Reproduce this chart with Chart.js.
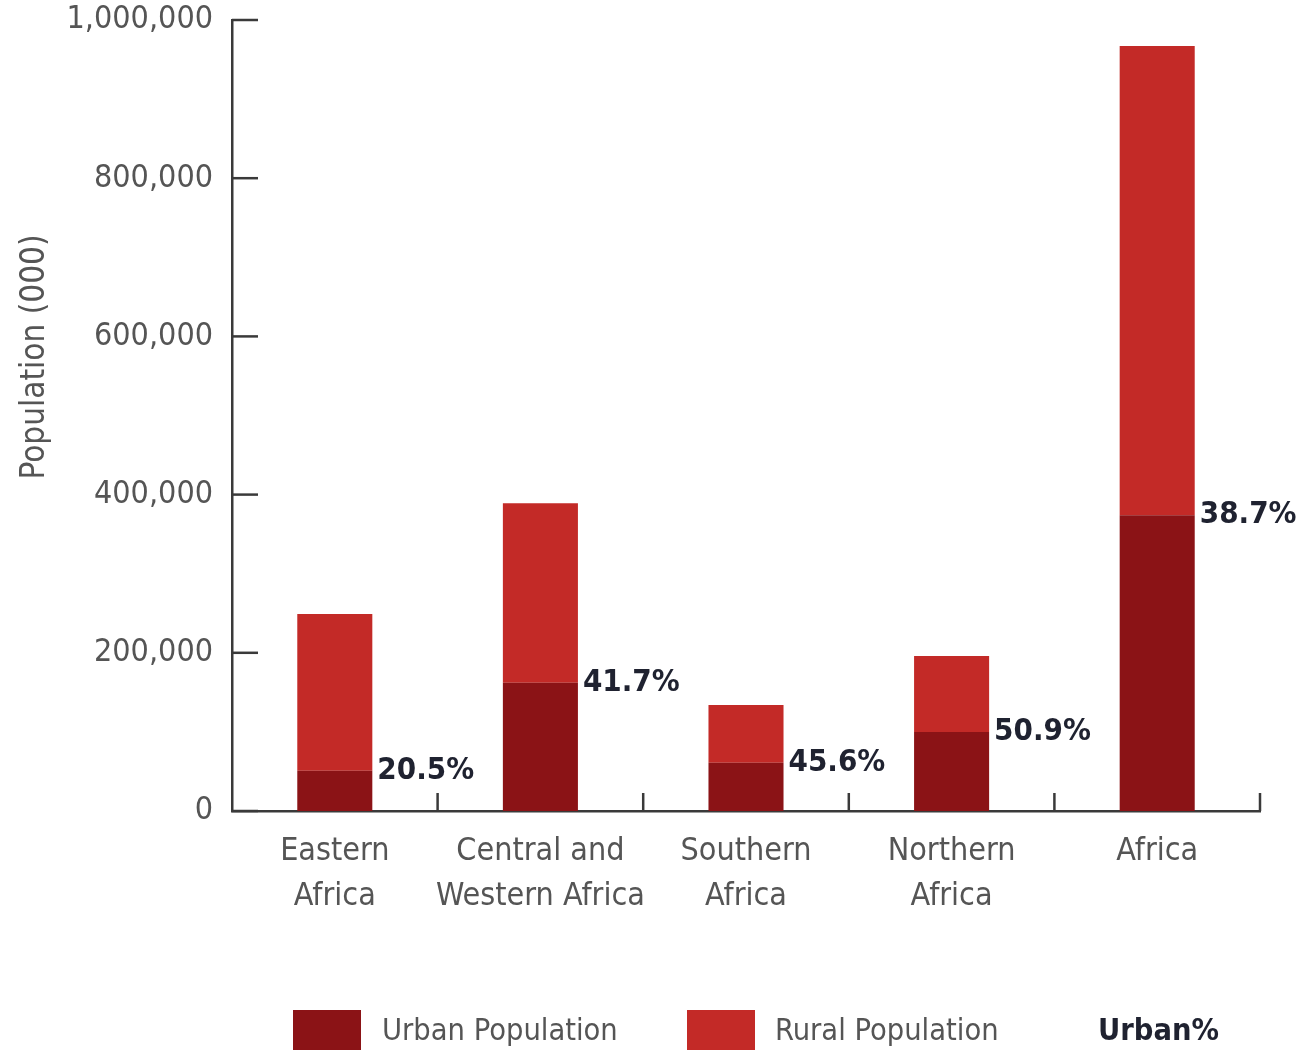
<!DOCTYPE html>
<html lang="en">
<head>
  <meta charset="UTF-8" />
  <title>Urban and rural population in Africa</title>
  <style>
    body {
      margin: 0;
      background: #fff;
      font-family: "Liberation Sans Narrow", "DejaVu Sans Condensed", sans-serif;
    }
    #wrap {
      position: relative;
      width: 1306px;
      height: 1053px;
    }
    #legend {
      position: absolute;
      left: 0;
      top: 1010px;
      height: 40px;
      width: 1306px;
      font-size: 30.5px;
      color: #555;
    }
    #legend .item {
      position: absolute;
      top: 0;
      height: 40px;
      line-height: 40px;
      white-space: nowrap;
    }
    #legend .box {
      position: absolute;
      top: 0;
      width: 68px;
      height: 40px;
    }
  </style>
  <script src="https://cdn.jsdelivr.net/npm/chart.js"></script>
</head>
<body>
  <div id="wrap">
    <canvas id="popChart"></canvas>
    <div id="legend">
      <div class="box" style="left:293px;background:#8b1316"></div>
      <div class="item" style="left:382px">Urban Population</div>
      <div class="box" style="left:687px;background:#c32a27"></div>
      <div class="item" style="left:775px">Rural Population</div>
      <div class="item" style="left:1098px;font-weight:bold;color:#1f2230">Urban%</div>
    </div>
  </div>

  <script>
    const categories = [
      ['Eastern', 'Africa'],
      ['Central and', 'Western Africa'],
      ['Southern', 'Africa'],
      ['Northern', 'Africa'],
      'Africa'
    ];
    const urbanPop = [51000, 162000, 61000, 100000, 374000];
    const ruralPop = [198000, 227000, 73000, 96000, 593000];
    const urbanPct = ['20.5%', '41.7%', '45.6%', '50.9%', '38.7%'];
    const yTicks = [0, 200000, 400000, 600000, 800000, 1000000];

    const FONT = '"Liberation Sans Narrow", "DejaVu Sans Condensed", sans-serif';
    const AXIS = '#3a3a3a';

    // inward tick marks, boundary ticks, axis title and the Urban% labels
    const extras = {
      id: 'extras',
      afterDatasetsDraw(chart) {
        const ctx = chart.ctx;
        const area = chart.chartArea;
        const x = chart.scales.x;
        const y = chart.scales.y;
        ctx.save();
        ctx.strokeStyle = AXIS;
        ctx.lineWidth = 2.5;

        yTicks.forEach(v => {
          const py = y.getPixelForValue(v);
          ctx.beginPath();
          ctx.moveTo(area.left, py);
          ctx.lineTo(area.left + 26, py);
          ctx.stroke();
        });

        for (let i = 0; i < categories.length; i++) {
          const px = i < categories.length - 1
            ? (x.getPixelForValue(i) + x.getPixelForValue(i + 1)) / 2
            : area.right;
          ctx.beginPath();
          ctx.moveTo(px, area.bottom);
          ctx.lineTo(px, area.bottom - 18);
          ctx.stroke();
        }

        // y axis title
        ctx.save();
        ctx.translate(35, 357);
        ctx.rotate(-Math.PI / 2);
        ctx.fillStyle = '#555';
        ctx.font = '33px ' + FONT;
        ctx.textAlign = 'center';
        ctx.textBaseline = 'middle';
        ctx.fillText('Population (000)', 0, 0);
        ctx.restore();

        // percentage labels next to the urban segment top
        const meta = chart.getDatasetMeta(0);
        ctx.fillStyle = '#1f2230';
        ctx.font = 'bold 31px ' + FONT;
        ctx.textAlign = 'left';
        ctx.textBaseline = 'middle';
        meta.data.forEach((bar, i) => {
          const right = bar.x + bar.width / 2;
          ctx.fillText(urbanPct[i], right + 5, y.getPixelForValue(urbanPop[i]));
        });
        ctx.restore();
      }
    };

    new Chart(document.getElementById('popChart'), {
      type: 'bar',
      data: {
        labels: categories,
        datasets: [
          {
            label: 'Urban Population',
            data: urbanPop,
            backgroundColor: '#8b1316',
            categoryPercentage: 1,
            barPercentage: 0.365
          },
          {
            label: 'Rural Population',
            data: ruralPop,
            backgroundColor: '#c32a27',
            categoryPercentage: 1,
            barPercentage: 0.365
          }
        ]
      },
      options: {
        responsive: true,
        maintainAspectRatio: false,
        animation: false,
        layout: { padding: { top: 20, right: 46, left: 0, bottom: 0 } },
        plugins: {
          legend: { display: false },
          tooltip: { enabled: false }
        },
        scales: {
          x: {
            stacked: true,
            offset: true,
            grid: { display: false, drawTicks: false },
            border: { color: AXIS, width: 2.5 },
            ticks: {
              padding: 18,
              color: '#555',
              font: { family: FONT, size: 32, lineHeight: 1.4 },
              maxRotation: 0,
              autoSkip: false
            },
            afterFit(scale) {
              scale.height = 1053 - 811;
              scale.paddingLeft = 0;
              scale.paddingRight = 0;
            }
          },
          y: {
            stacked: true,
            min: 0,
            max: 1000000,
            afterBuildTicks(scale) { scale.ticks = yTicks.map(v => ({ value: v })); },
            grid: { display: false, drawTicks: false },
            border: { color: AXIS, width: 2.5 },
            ticks: {
              padding: 19,
              color: '#555',
              font: { family: FONT, size: 32 },
              callback: v => v.toLocaleString('en-US')
            },
            afterFit(scale) {
              scale.width = 232;
              scale.paddingTop = 0;
              scale.paddingBottom = 0;
            }
          }
        }
      },
      plugins: [extras]
    });
  </script>
</body>
</html>
